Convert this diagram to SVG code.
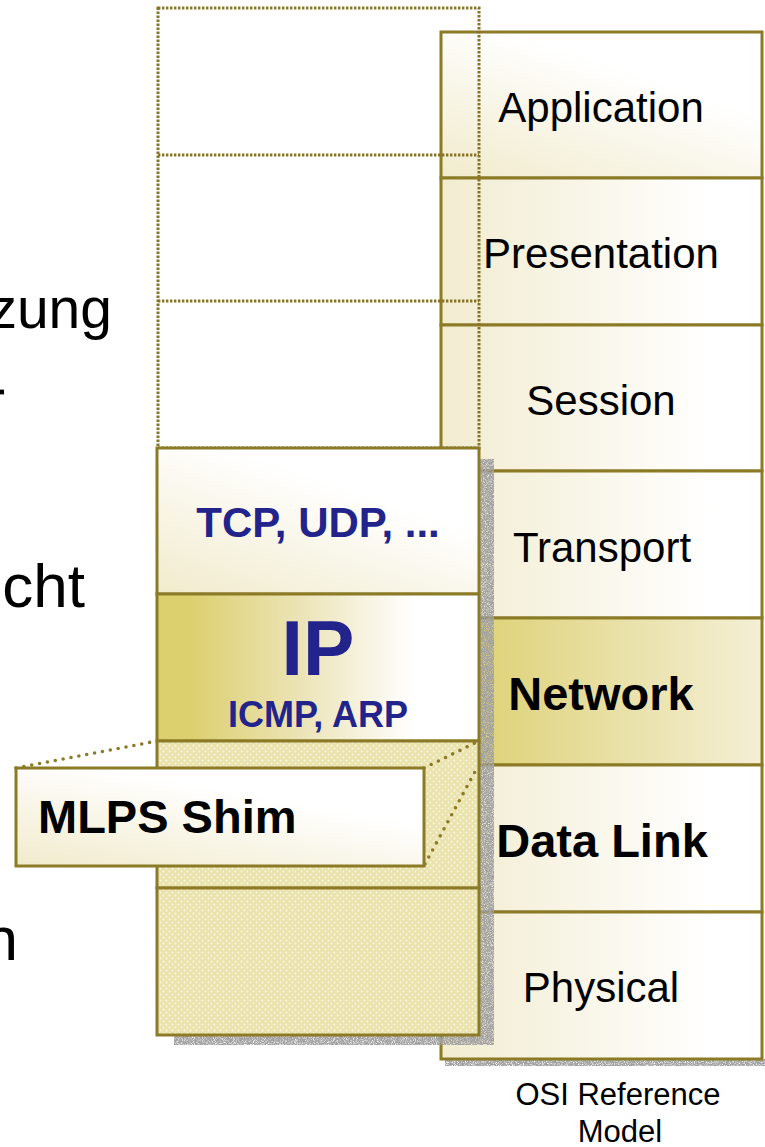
<svg xmlns="http://www.w3.org/2000/svg" width="765" height="1147" viewBox="0 0 765 1147">
  <style>
    .box { stroke: #8b7b27; stroke-width: 3; }
    .osi { font-family: "Liberation Sans", Arial, sans-serif; font-size: 42px; fill: #000; text-anchor: middle; }
    .osi-b { font-family: "Liberation Sans", Arial, sans-serif; font-size: 47px; font-weight: bold; fill: #000; text-anchor: middle; }
    .proto { font-family: "Liberation Sans", Arial, sans-serif; font-weight: bold; fill: #23238c; text-anchor: middle; }
    .ghost { fill: none; stroke: #857426; stroke-width: 3; stroke-dasharray: 2.4 1.6; }
    .link { fill: none; stroke: #8b7b27; stroke-width: 3.6; stroke-dasharray: 0 8; stroke-linecap: round; }
    .body { font-family: "Liberation Sans", Arial, sans-serif; fill: #000; text-anchor: end; }
    .caption { font-family: "Liberation Sans", Arial, sans-serif; font-size: 31px; fill: #000; text-anchor: middle; }
  </style>
  <defs>
    <linearGradient id="gSoft" x1="0" y1="0" x2="1" y2="0">
      <stop offset="0" stop-color="#f2ecd0"/>
      <stop offset="0.85" stop-color="#ffffff"/>
    </linearGradient>
    <linearGradient id="gDiag" x1="0" y1="1" x2="0.75" y2="0">
      <stop offset="0" stop-color="#f1ebcc"/>
      <stop offset="0.75" stop-color="#ffffff"/>
    </linearGradient>
    <linearGradient id="gStrong" x1="0" y1="0" x2="1" y2="0">
      <stop offset="0.1" stop-color="#dccf6e"/>
      <stop offset="0.45" stop-color="#ece4b8"/>
      <stop offset="0.8" stop-color="#ffffff"/>
    </linearGradient>
    <linearGradient id="gNet" x1="0" y1="0" x2="1" y2="0">
      <stop offset="0.03" stop-color="#dccf6e"/>
      <stop offset="1" stop-color="#f4efd6"/>
    </linearGradient>
    <pattern id="dots" width="6" height="6" patternUnits="userSpaceOnUse">
      <rect width="6" height="6" fill="#ebe3ad"/>
      <circle cx="1.5" cy="1.5" r="0.9" fill="#fbf8ea"/>
      <circle cx="4.5" cy="4.5" r="0.9" fill="#fbf8ea"/>
    </pattern>
    <!-- speckled grey drop shadow -->
    <filter id="grain" x="0" y="0" width="1" height="1">
      <feTurbulence type="fractalNoise" baseFrequency="1.1" numOctaves="2" seed="4" result="noise"/>
      <feColorMatrix in="noise" type="matrix" values="0 0 0 0 0.36  0 0 0 0 0.36  0 0 0 0 0.36  2.6 0 0 0 -0.45" result="speck"/>
      <feComposite in="speck" in2="SourceGraphic" operator="in"/>
    </filter>
  </defs>

  <!-- Left-hand slide text, cut off at the edge -->
  <g id="slide-text">
    <text class="body" x="112" y="328" font-size="57">zung</text>
    <text class="body" x="5" y="420" font-size="57">r</text>
    <text class="body" x="85" y="607" font-size="62">cht</text>
    <text class="body" x="18" y="960" font-size="62">n</text>
  </g>

  <!-- OSI reference model stack -->
  <g id="osi-shadow">
    <rect x="445" y="1059" width="320" height="7" fill="#000" filter="url(#grain)"/>
  </g>
  <g id="osi-application">
    <rect class="box" x="441" y="32" width="321" height="146" fill="url(#gDiag)"/>
    <text class="osi" x="601" y="122">Application</text>
  </g>
  <g id="osi-presentation">
    <rect class="box" x="441" y="178" width="321" height="147" fill="url(#gSoft)"/>
    <text class="osi" x="601" y="268">Presentation</text>
  </g>
  <g id="osi-session">
    <rect class="box" x="441" y="325" width="321" height="146" fill="url(#gSoft)"/>
    <text class="osi" x="601" y="415">Session</text>
  </g>
  <g id="osi-transport">
    <rect class="box" x="441" y="471" width="321" height="147" fill="url(#gSoft)"/>
    <text class="osi" x="602" y="562">Transport</text>
  </g>
  <g id="osi-network">
    <rect class="box" x="441" y="618" width="321" height="147" fill="url(#gNet)"/>
    <text class="osi-b" x="601" y="710">Network</text>
  </g>
  <g id="osi-datalink">
    <rect class="box" x="441" y="765" width="321" height="147" fill="url(#gSoft)"/>
    <text class="osi-b" x="602" y="857">Data Link</text>
  </g>
  <g id="osi-physical">
    <rect class="box" x="441" y="912" width="321" height="147" fill="url(#gSoft)"/>
    <text class="osi" x="601" y="1002">Physical</text>
  </g>
  <g id="osi-caption">
    <text class="caption" x="618" y="1105">OSI Reference</text>
    <text class="caption" x="620" y="1142">Model</text>
  </g>

  <!-- TCP/IP stack -->
  <g id="tcpip-shadow">
    <rect x="479" y="459" width="15" height="586" fill="#000" filter="url(#grain)"/>
    <rect x="174" y="1035" width="305" height="10" fill="#000" filter="url(#grain)"/>
  </g>
  <g id="tcpip-upper">
    <rect class="ghost" x="158" y="8" width="321" height="440"/>
    <line class="ghost" x1="158" y1="155" x2="479" y2="155"/>
    <line class="ghost" x1="158" y1="301" x2="479" y2="301"/>
  </g>
  <g id="tcpip-transport">
    <rect class="box" x="157" y="448" width="322" height="146" fill="url(#gDiag)"/>
    <text class="proto" x="318" y="537" font-size="42">TCP, UDP, ...</text>
  </g>
  <g id="tcpip-ip">
    <rect class="box" x="157" y="594" width="322" height="147" fill="url(#gStrong)"/>
    <text class="proto" x="318" y="675" font-size="77">IP</text>
    <text class="proto" x="318" y="727" font-size="36">ICMP, ARP</text>
  </g>
  <g id="tcpip-shim-layer">
    <rect class="box" x="157" y="741" width="322" height="147" fill="url(#dots)"/>
  </g>
  <g id="tcpip-link">
    <rect class="box" x="157" y="888" width="322" height="147" fill="url(#dots)"/>
  </g>

  <!-- Dotted leaders from the callout to the shim layer -->
  <g id="connectors">
    <line class="link" x1="16" y1="768" x2="157" y2="741"/>
    <line class="link" x1="424" y1="768" x2="477" y2="742"/>
    <line class="link" x1="425" y1="864" x2="477" y2="768"/>
  </g>

  <g id="mpls-shim">
    <rect class="box" x="16" y="768" width="408" height="98" fill="url(#gDiag)"/>
    <text x="38" y="833" font-family="'Liberation Sans', Arial, sans-serif" font-size="47" font-weight="bold" fill="#000">MLPS Shim</text>
  </g>
</svg>
